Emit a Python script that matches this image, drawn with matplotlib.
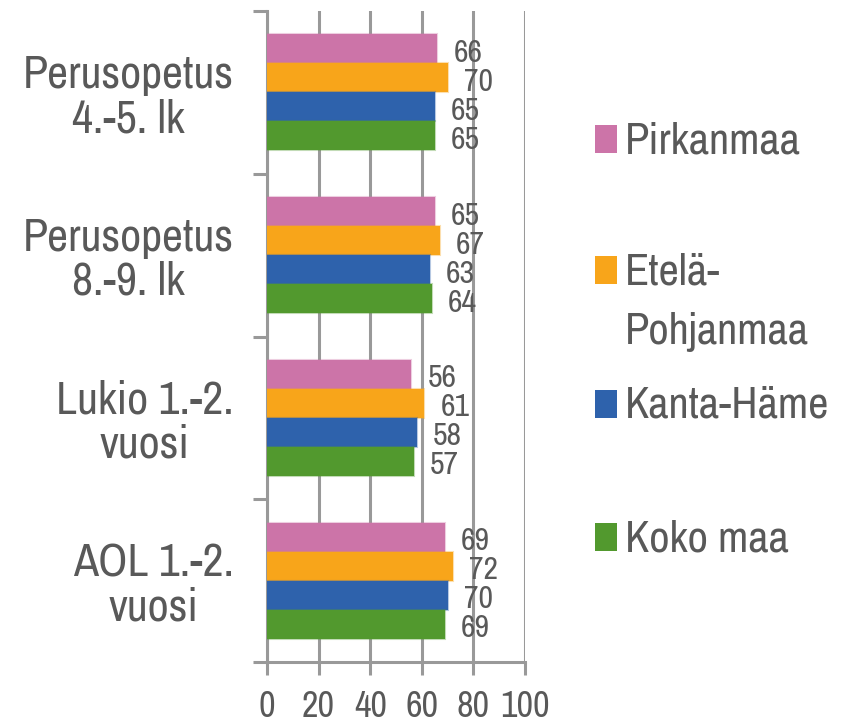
import matplotlib
matplotlib.use("Agg")
import matplotlib.pyplot as plt
from matplotlib.patches import Rectangle
from matplotlib.colors import to_rgba
import numpy as np

# ---- data ----
categories = ["Perusopetus\n4.-5. lk", "Perusopetus\n8.-9. lk", "Lukio 1.-2.\nvuosi", "AOL 1.-2.\nvuosi"]
series_names = ["Pirkanmaa", "Etelä-\nPohjanmaa", "Kanta-Häme", "Koko maa"]
pirkanmaa = [66, 65, 56, 69]
etela_pohjanmaa = [70, 67, 61, 72]
kanta_hame = [65, 63, 58, 70]
koko_maa = [65, 64, 57, 69]
x_ticks = [0, 20, 40, 60, 80, 100]

series = [pirkanmaa, etela_pohjanmaa, kanta_hame, koko_maa]
colors = ["#CC74A8", "#F8A51A", "#2E62AC", "#52992E"]

FONT = ["Archivo Narrow", "Liberation Sans", "DejaVu Sans"]
TXT = "#595959"
GRID = "#999999"

fig = plt.figure(figsize=(8.52, 7.25), dpi=100)
W, H = 852, 725
ax = fig.add_axes([267 / W, 1 - 662 / H, (525 - 267) / W, (662 - 11) / H])

bh = 0.178
y = np.arange(len(categories))
for i, (vals, c) in enumerate(zip(series, colors)):
    off = (i - 1.5) * bh
    ax.barh(y + off, vals, height=bh, color=c,
            edgecolor=to_rgba(c, 0.35), linewidth=1.5, zorder=3)
    for yy, v in zip(y + off, vals):
        ax.text(v + 6.2, yy + 0.025, str(v), ha="left", va="center",
                fontsize=23, color=TXT, family=FONT, zorder=4)

ax.set_xlim(0, 100)
ax.set_ylim(len(categories) - 0.5, -0.5)

# grid
ax.set_xticks(x_ticks)
ax.set_xticklabels([str(t) for t in x_ticks], fontsize=26, color=TXT, family=FONT)
ax.xaxis.grid(True, color=GRID, linewidth=2.2, zorder=0)
ax.set_axisbelow(True)
ax.tick_params(axis="x", length=9.5, width=2.2, color=GRID, pad=11)

ax.set_yticks(y)
ax.set_yticklabels(categories, fontsize=33, color=TXT, family=FONT,
                   multialignment="center", linespacing=1.05)
ax.tick_params(axis="y", which="major", length=0, pad=24)
ax.set_yticks(np.arange(-0.5, len(categories) + 0.5, 1), minor=True)
ax.tick_params(axis="y", which="minor", length=10, width=2.2, color=GRID)

for s in ["top", "right"]:
    ax.spines[s].set_visible(False)
for s in ["left", "bottom"]:
    ax.spines[s].set_color(GRID)
    ax.spines[s].set_linewidth(2.2)

# legend (manual, matching the reference layout)
baselines = [153, 284, 418, 551]
for name, c, b in zip(series_names, colors, baselines):
    fig.patches.append(Rectangle((595 / W, 1 - b / H), 22 / W, 28 / H,
                                 transform=fig.transFigure, facecolor=c,
                                 edgecolor="none"))
    fig.text(625 / W, 1 - b / H, name.split("\n")[0], ha="left", va="baseline",
             fontsize=32, color=TXT, family=FONT)
    if "\n" in name:
        fig.text(625 / W, 1 - (b + 60) / H, name.split("\n")[1], ha="left",
                 va="baseline", fontsize=32, color=TXT, family=FONT)

fig.savefig("out.png", dpi=100)
